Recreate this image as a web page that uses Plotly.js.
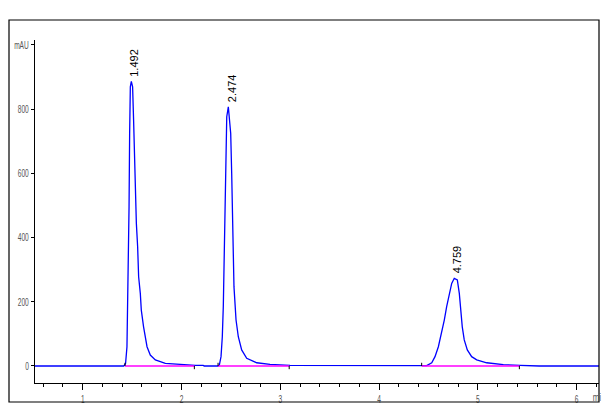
<!DOCTYPE html>
<html>
<head>
<meta charset="utf-8">
<script src="https://cdn.plot.ly/plotly-3.0.1.min.js"></script>
<style>html,body{margin:0;padding:0;background:#fff;}#chart{width:612px;height:418px;}</style>
</head>
<body>
<div id="chart"></div>
<script>
// Chromatogram signal (time in min, signal in mAU)
var timeMin = [0.517, 1.415, 1.424, 1.434, 1.448, 1.459, 1.469, 1.475, 1.482, 1.492, 1.505, 1.515, 1.532, 1.543, 1.556, 1.566, 1.583, 1.593, 1.616, 1.651, 1.684, 1.735, 1.836, 1.954, 2.140, 2.220, 2.230,
  2.370, 2.383, 2.400, 2.413, 2.423, 2.433, 2.440, 2.450, 2.458, 2.474, 2.498, 2.508, 2.518, 2.531, 2.552, 2.575, 2.609, 2.660, 2.761, 2.896, 3.098, 3.200, 3.210,
  4.431, 4.482, 4.533, 4.566, 4.600, 4.634, 4.660, 4.684, 4.711, 4.735, 4.761, 4.792, 4.812, 4.826, 4.842, 4.862, 4.893, 4.937, 4.988, 5.089, 5.257, 5.426, 5.611, 5.620, 6.226];
var signalMAU = [0, 0, 3, 8, 60, 237, 496, 724, 869, 886, 869, 766, 537, 444, 371, 278, 226, 174, 122, 60, 34, 19, 8, 5, 2, 2, 0,
  0, 3, 29, 91, 185, 330, 517, 672, 776, 807, 724, 600, 444, 247, 143, 91, 50, 24, 10, 5, 2, 2, 0,
  0, 1, 10, 29, 60, 102, 143, 185, 226, 257, 273, 268, 226, 174, 122, 81, 50, 29, 19, 10, 4, 2, 1, 0, 0];

// Integration events
var peakStart = [1.428, 2.370, 4.431];
var peakEnd = [2.130, 3.090, 5.420];
var peakRT = [1.492, 2.474, 4.759];
var peakHeight = [886, 807, 273];

// Axis ticks
var yTickVals = [0, 200, 400, 600, 800, 1000];
var yTickText = ['0', '200', '400', '600', '800', 'mAU'];

var baseX = [], baseY = [], tickX = [], tickY = [];
var TICK = 10;
for (var i = 0; i < peakStart.length; i++) {
  baseX.push(peakStart[i], peakEnd[i], null);
  baseY.push(0, 0, null);
  tickX.push(peakStart[i], peakStart[i], null, peakEnd[i], peakEnd[i], null);
  tickY.push(0, TICK, null, 0, -TICK, null);
}

var labelFont = {family: '"Liberation Sans Narrow", "Arial Narrow", "Liberation Sans", sans-serif', size: 11, color: '#555'};

var traces = [
  {x: timeMin, y: signalMAU, type: 'scatter', mode: 'lines', line: {color: '#0000ff', width: 1.3}, hoverinfo: 'skip'},
  {x: baseX, y: baseY, type: 'scatter', mode: 'lines', line: {color: '#ff00ff', width: 1.3}, hoverinfo: 'skip'},
  {x: tickX, y: tickY, type: 'scatter', mode: 'lines', line: {color: '#000000', width: 1}, hoverinfo: 'skip'}
];

var annotations = peakRT.map(function (rt, i) {
  return {
    x: rt, y: peakHeight[i], xref: 'x', yref: 'y',
    text: rt.toFixed(3), textangle: -90, showarrow: false,
    xanchor: 'center', yanchor: 'bottom', xshift: 3, yshift: 3,
    font: {family: '"Liberation Sans Narrow", "Arial Narrow", sans-serif', size: 11, color: '#000'}
  };
});
annotations.push({
  x: 6.12, y: -0.04, xref: 'x', yref: 'paper', text: 'mi', showarrow: false,
  xanchor: 'left', yanchor: 'middle', font: labelFont
});

var layout = {
  width: 612, height: 418,
  margin: {l: 35, r: 13, t: 40, b: 35, pad: 0},
  paper_bgcolor: '#ffffff', plot_bgcolor: '#ffffff',
  showlegend: false,
  xaxis: {
    range: [0.517, 6.226], showline: true, linecolor: '#000', linewidth: 1,
    showgrid: false, zeroline: false, ticks: 'outside', ticklen: 6, tickwidth: 1, tickcolor: '#000',
    tick0: 0, dtick: 1, tickfont: labelFont,
    minor: {dtick: 0.2, tick0: 0, ticks: 'outside', ticklen: 3, tickwidth: 1, tickcolor: '#000', showgrid: false}
  },
  yaxis: {
    range: [-53, 1015], showline: true, linecolor: '#000', linewidth: 1,
    showgrid: false, zeroline: false, ticks: 'outside', ticklen: 3, tickwidth: 1, tickcolor: '#000',
    tickmode: 'array', tickvals: yTickVals, ticktext: yTickText, tickfont: labelFont
  },
  shapes: [{
    type: 'rect', xref: 'paper', yref: 'paper',
    x0: (9 - 35) / 564, x1: 1.0, y0: (383 - 402) / 343, y1: (383 - 20) / 343,
    line: {color: '#000', width: 1.2}, fillcolor: 'rgba(0,0,0,0)', layer: 'above'
  }],
  annotations: annotations
};

Plotly.newPlot('chart', traces, layout, {staticPlot: true, displayModeBar: false}).then(function () {
  // condense tick labels like the narrow instrument font
  document.querySelectorAll('.xtick text, .ytick text').forEach(function (t) {
    var w = t.getComputedTextLength();
    t.setAttribute('textLength', (w * 0.6).toFixed(2));
    t.setAttribute('lengthAdjust', 'spacingAndGlyphs');
  });
  var mi = document.querySelector('.annotation-text');
  document.querySelectorAll('.annotation').forEach(function (a) {
    var t = a.querySelector('text');
    if (t && t.textContent === 'mi') {
      var w = t.getComputedTextLength();
      t.setAttribute('textLength', (w * 0.7).toFixed(2));
      t.setAttribute('lengthAdjust', 'spacingAndGlyphs');
    }
  });
});
</script>
</body>
</html>
